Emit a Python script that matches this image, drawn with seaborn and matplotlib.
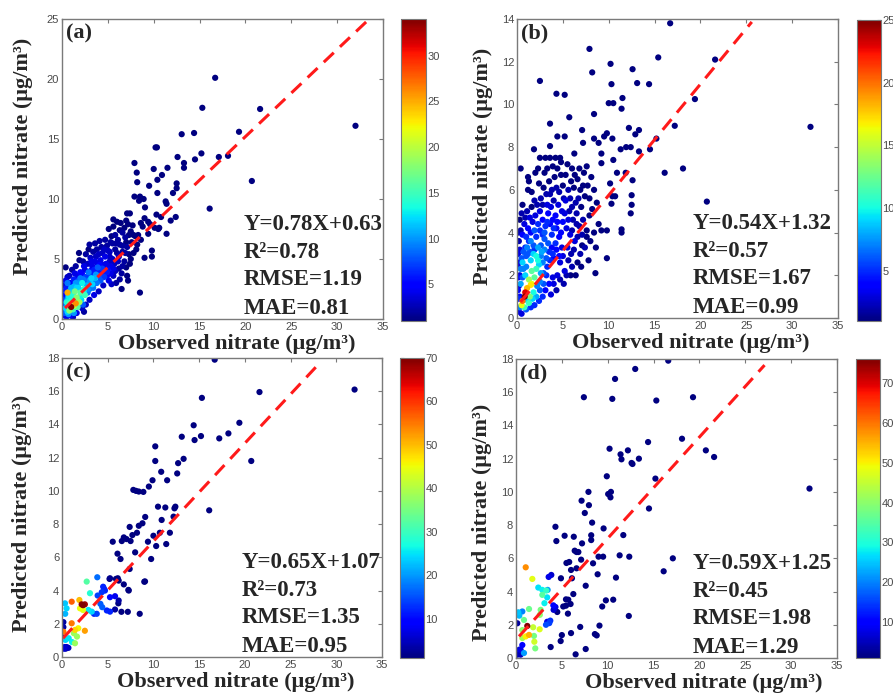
#!/usr/bin/env python

import pandas as pd
import matplotlib
matplotlib.use('Agg')
import matplotlib.pyplot as plt
import seaborn as sns
from matplotlib.colors import Normalize
from matplotlib.cm import ScalarMappable

# ---------------- data ----------------
# (a) sparse dark-blue points (density ~1)
obs_a_sparse = [16.7, 32.0, 15.3, 21.6, 19.3, 13.05, 14.4, 10.2, 10.35, 15.2,
                12.6, 17.1, 18.1, 14.5, 7.9, 20.7, 16.1, 10.0, 13.3, 13.3,
                11.5, 10.9, 10.4, 8.15, 8.2, 9.5, 12.5, 12.5, 10.4, 12.1,
                11.3, 11.4, 7.9, 8.9, 9.05, 10.3, 12.4, 11.85, 10.8, 11.4,
                10.5, 8.5, 8.4, 7.1, 7.4, 5.6, 9.4, 9.4, 9.8, 9.8,
                9.0, 8.5, 7.2, 6.5, 0.4, 1.85]
pred_a_sparse = [20.1, 16.1, 17.6, 17.5, 15.6, 15.4, 15.5, 14.3, 14.3, 13.8,
                 13.5, 13.5, 13.6, 13.3, 13.0, 11.5, 9.2, 12.5, 13.0, 12.6,
                 12.6, 12.0, 11.6, 12.2, 11.4, 11.1, 11.3, 10.9, 10.5, 10.5,
                 9.8, 9.6, 10.2, 10.0, 9.3, 8.7, 8.5, 8.2, 8.5, 7.1,
                 7.5, 10.2, 9.85, 8.8, 8.8, 8.3, 8.1, 7.1, 5.7, 5.2,
                 5.1, 2.2, 3.2, 2.5, 4.3, 5.5]

# (a) body + dense core
obs_a_core = [8.6, 9.0, 8.8, 9.6, 10.6, 10.1, 8.3, 7.7, 7.5, 7.2,
              6.8, 6.4, 6.6, 6.9, 7.6, 8.0, 5.8, 6.1, 5.4, 6.3,
              7.1, 5.5, 5.8, 6.6, 7.3, 7.5, 6.8, 6.2, 5.5, 7.0,
              6.2, 5.2, 4.9, 4.6, 4.3, 5.1, 4.0, 3.8, 3.4, 2.9,
              2.6, 3.1, 2.3, 1.9, 1.1, 1.5, 2.8, 3.6, 4.2, 4.8,
              5.3, 5.8, 6.5, 5.6, 4.9, 4.4, 3.9, 3.3, 4.6, 5.1,
              5.9, 4.2, 3.7, 6.3, 7.1, 5.4, 4.5, 3.4, 2.9, 2.5,
              3.2, 2.2, 1.7, 0.6, 0.9, 0.5, 1.3, 0.3, 0.4, 0.2,
              0.5, 0.9, 1.6, 2.2, 2.6, 3.0, 3.5, 4.0, 2.4, 1.2,
              0.1, 1.0, 1.3, 1.5, 0.8, 1.2, 0.6, 0.8, 1.1, 1.6,
              2.0, 2.4, 1.8, 2.2, 2.7, 3.0, 2.5, 1.9, 0.5, 0.4,
              0.7, 1.4, 1.0, 0.6, 2.8, 3.3, 3.6, 2.0, 1.5, 3.0,
              1.7, 2.1, 0.3, 0.9, 2.3, 1.3, 0.2, 2.6, 3.4, 4.0,
              4.5, 3.8, 4.3, 4.8, 5.2, 3.9, 3.1]
pred_a_core = [8.0, 8.4, 7.7, 7.9, 7.6, 7.6, 7.0, 7.8, 7.3, 7.9,
               7.6, 8.0, 7.2, 6.8, 6.4, 6.9, 7.0, 6.6, 6.9, 6.2,
               6.0, 6.3, 5.8, 5.6, 5.4, 5.0, 4.8, 5.2, 5.0, 4.3,
               4.2, 5.6, 6.1, 5.8, 6.0, 7.5, 5.4, 5.8, 5.6, 5.8,
               5.4, 5.1, 4.8, 4.9, 4.1, 4.4, 4.6, 4.8, 4.9, 4.6,
               4.4, 4.0, 3.8, 3.6, 3.9, 4.2, 4.3, 4.4, 3.5, 3.2,
               3.0, 3.2, 3.7, 3.3, 3.6, 2.9, 2.8, 2.6, 3.9, 4.1,
               3.4, 3.7, 3.6, 3.5, 3.0, 2.6, 3.3, 2.0, 1.2, 0.3,
               0.2, 0.3, 0.5, 0.9, 1.2, 1.6, 2.0, 2.3, 0.6, 0.15,
               0.8, 1.0, 1.1, 1.3, 0.7, 0.8, 2.2, 1.8, 1.6, 1.8,
               2.2, 2.5, 2.6, 3.0, 2.8, 3.2, 2.0, 1.4, 1.4, 0.9,
               0.4, 2.3, 2.6, 3.0, 2.2, 2.9, 3.4, 3.4, 3.0, 2.5,
               1.0, 1.6, 0.5, 1.3, 1.2, 0.5, 1.6, 3.5, 3.8, 3.6,
               4.5, 3.0, 3.9, 4.2, 4.8, 4.6, 4.0]
dens_a_core = [1, 1, 1, 1, 1, 1, 1, 1, 1, 1,
               1, 1, 2, 2, 1, 1, 2, 2, 1, 2,
               2, 2, 2, 2, 1, 1, 2, 3, 3, 1,
               2, 3, 2, 3, 2, 1, 3, 2, 2, 1,
               2, 3, 2, 1, 2, 2, 3, 4, 4, 4,
               4, 3, 2, 3, 6, 7, 8, 4, 7, 4,
               2, 8, 10, 2, 1, 3, 3, 9, 9, 4,
               12, 5, 4, 3, 5, 6, 6, 5, 8, 4,
               4, 5, 4, 3, 3, 3, 4, 3, 2, 3,
               4, 34, 20, 26, 18, 15, 25, 13, 14, 18,
               16, 14, 12, 13, 11, 10, 15, 19, 14, 12,
               10, 17, 11, 9, 9, 12, 11, 9, 10, 9,
               16, 12, 8, 17, 8, 10, 7, 7, 6, 8,
               4, 9, 5, 4, 3, 4, 5]

# (a) extra points filling the dark-blue mass
obs_a_fill = [3.0, 3.6, 4.1, 4.7, 5.3, 5.0, 4.4, 3.7, 3.2, 2.4,
              5.9, 6.0, 6.6, 7.0, 7.8, 7.3, 6.3, 5.6, 6.0, 7.0,
              5.7, 6.1, 6.6, 7.4, 7.8, 8.2, 8.6, 8.1, 6.9, 5.2,
              4.7, 4.1, 3.5, 3.0, 2.7, 2.3, 1.9, 1.6, 1.2, 1.0,
              4.0, 4.4, 4.9, 5.3, 5.0, 5.6, 3.6, 3.2, 2.8, 2.4,
              2.0, 1.7, 1.4, 1.1, 0.9, 0.6, 0.3, 0.2, 0.6, 0.7,
              0.4, 0.8, 1.0, 1.3, 1.7, 2.0, 1.4, 0.8, 0.4, 0.2]
pred_a_fill = [6.2, 6.3, 6.5, 6.6, 6.4, 5.7, 5.5, 5.2, 4.8, 4.4,
               6.3, 5.5, 6.1, 6.4, 7.0, 7.0, 7.4, 7.7, 8.1, 8.2,
               4.6, 4.8, 4.4, 4.6, 5.5, 6.2, 6.6, 5.8, 5.5, 5.2,
               5.2, 4.5, 4.1, 3.6, 3.2, 3.3, 3.0, 2.6, 2.0, 1.8,
               3.9, 3.7, 3.6, 3.8, 4.1, 4.2, 3.0, 2.7, 2.5, 2.2,
               1.9, 1.6, 1.4, 1.2, 0.9, 0.6, 0.8, 1.2, 1.6, 1.9,
               2.4, 2.3, 2.2, 2.7, 3.1, 3.9, 3.8, 3.6, 3.2, 2.8]
dens_a_fill = [2, 2, 2, 2, 2, 3, 3, 3, 4, 4,
               2, 2, 2, 1, 1, 1, 1, 1, 1, 1,
               3, 3, 2, 1, 1, 1, 1, 1, 2, 3,
               4, 5, 6, 7, 8, 9, 10, 12, 14, 13,
               6, 6, 5, 4, 5, 4, 8, 9, 10, 12,
               13, 14, 15, 16, 15, 12, 6, 5, 11, 12,
               6, 10, 12, 11, 8, 5, 4, 3, 4, 3]

# (b) sparse dark-blue points
obs_b_sparse = [16.7, 7.9, 15.4, 10.2, 8.2, 12.6, 2.5, 13.1, 14.4, 10.3,
                21.6, 4.3, 5.2, 11.5, 10.0, 10.5, 11.4, 5.7, 8.4, 19.4,
                3.6, 32.0, 17.2, 12.2, 13.3, 7.1, 12.9, 9.8, 4.4, 5.2,
                8.4, 9.5, 10.4, 15.2, 1.85, 8.9, 7.2, 11.3, 11.9, 12.4,
                14.5, 13.3, 9.2, 3.6, 2.5, 3.1, 4.7, 6.25, 10.5, 16.1,
                18.1, 0.4, 9.2, 7.6, 10.9, 11.85, 12.6, 10.15, 20.7, 12.5,
                12.5, 10.4, 10.7, 10.3, 12.4, 11.4, 11.4, 9.2, 9.8, 9.8,
                8.55, 5.85, 1.2, 1.2, 2.0, 3.6]
pred_b_sparse = [13.8, 12.6, 12.2, 11.9, 11.5, 11.65, 11.1, 11.0, 10.95, 10.95,
                 12.1, 10.5, 10.45, 10.3, 10.06, 10.06, 9.8, 9.4, 9.55, 10.25,
                 9.1, 8.95, 9.0, 8.9, 8.8, 8.8, 8.6, 8.65, 8.5, 8.5,
                 8.4, 8.5, 8.4, 8.4, 7.9, 8.2, 8.2, 7.9, 8.0, 8.0,
                 7.9, 7.8, 7.7, 7.5, 7.5, 7.5, 7.5, 7.7, 7.4, 6.8,
                 7.0, 7.0, 7.25, 7.1, 6.8, 6.8, 6.45, 6.3, 5.45, 5.75,
                 5.3, 5.7, 5.7, 5.35, 4.9, 4.15, 4.0, 4.1, 4.1, 2.8,
                 2.1, 2.0, 6.0, 6.6, 6.8, 8.05]

# (b) body + dense core
obs_b_core = [0.2, 0.5, 0.3, 0.2, 0.3, 0.2, 0.3, 0.2, 0.4, 0.3,
              0.6, 0.8, 1.0, 1.2, 0.9, 1.3, 1.5, 1.7, 1.1, 1.6,
              2.0, 2.2, 2.6, 2.9, 3.2, 3.5, 2.4, 3.0, 3.8, 4.1,
              4.4, 4.0, 4.6, 5.0, 5.3, 5.6, 5.8, 6.2, 6.6, 6.9,
              6.4, 7.0, 7.4, 7.7, 6.0, 5.5, 4.8, 3.9, 6.8, 7.3,
              2.3, 1.3,
              0.5, 0.7, 1.0, 1.4, 1.8, 2.1, 2.5, 2.8, 3.1, 3.4,
              3.7, 4.2, 4.5, 4.9, 5.3, 5.7, 6.1, 6.5, 6.8, 7.2,
              7.6, 7.9, 8.2, 8.0, 7.4, 6.9, 6.3, 5.8, 5.4, 5.0,
              4.6, 4.2, 3.8, 3.4, 3.0, 2.6, 5.6, 6.0, 5.2, 4.7,
              4.4, 3.9, 3.5, 3.1, 2.8, 2.4, 1.9, 1.5, 1.0, 4.0,
              6.6, 7.1, 4.9, 3.3, 2.9, 5.1, 4.3, 3.7, 6.4, 7.8,
              8.6, 8.9, 8.4, 7.0,
              0.84, 0.9, 0.6, 1.1, 0.5, 1.5, 1.6, 1.3, 1.9, 2.1,
              1.6, 2.4, 2.1, 0.9, 0.4, 0.3, 1.2, 1.8, 2.6, 2.3,
              1.5, 2.8, 1.0, 3.2, 3.0, 2.6, 3.5, 1.2, 0.6, 2.2,
              0.8, 1.4, 2.5, 3.8, 4.3, 3.6, 2.8, 1.9]
pred_b_core = [0.3, 0.2, 1.0, 1.5, 2.0, 2.6, 3.2, 3.6, 4.1, 4.6,
               3.9, 4.4, 3.8, 4.2, 3.3, 3.6, 4.0, 4.5, 5.0, 5.2,
               4.8, 5.3, 5.6, 6.1, 5.8, 6.4, 6.3, 6.8, 6.0, 6.6,
               7.0, 5.5, 5.9, 6.2, 6.7, 6.0, 5.6, 6.1, 6.5, 6.0,
               5.4, 5.2, 5.7, 6.2, 7.0, 7.2, 7.3, 7.1, 7.0, 6.8,
               7.0, 6.4,
               2.8, 2.3, 2.9, 3.1, 3.4, 3.8, 4.1, 4.6, 4.3, 4.9,
               5.2, 4.8, 5.3, 5.0, 5.5, 5.0, 4.6, 4.9, 4.3, 4.6,
               4.1, 4.8, 5.1, 3.6, 3.3, 3.0, 3.6, 3.9, 4.2, 4.5,
               3.8, 3.5, 3.9, 3.5, 3.2, 2.9, 2.7, 2.4, 2.2, 2.6,
               2.0, 1.9, 1.6, 1.3, 1.0, 0.8, 0.6, 0.5, 0.4, 2.8,
               3.8, 3.9, 3.3, 2.4, 2.1, 1.6, 1.3, 1.1, 2.0, 2.7,
               3.3, 4.4, 4.0, 2.4,
               1.0, 1.2, 0.8, 1.4, 0.6, 1.55, 1.6, 1.8, 1.9, 2.3,
               2.2, 2.5, 2.9, 2.0, 1.6, 0.5, 0.8, 1.2, 2.1, 3.3,
               2.7, 2.6, 2.4, 2.8, 3.7, 3.4, 3.1, 3.0, 1.9, 1.5,
               0.5, 1.0, 1.7, 3.3, 4.2, 4.4, 3.9, 3.2]
dens_b_core = [3, 3, 4, 3, 3, 3, 3, 2, 2, 1,
               4, 3, 5, 4, 5, 5, 4, 3, 2, 1,
               3, 2, 2, 1, 2, 1, 1, 1, 2, 1,
               1, 2, 2, 1, 1, 2, 2, 1, 1, 1,
               2, 1, 1, 1, 1, 1, 1, 1, 1, 1,
               1, 1,
               6, 7, 6, 6, 6, 5, 5, 4, 5, 4,
               3, 4, 3, 3, 3, 2, 2, 2, 2, 2,
               1, 1, 1, 1, 2, 2, 3, 3, 3, 4,
               4, 5, 5, 6, 7, 7, 2, 2, 3, 3,
               3, 3, 4, 4, 5, 5, 5, 5, 6, 4,
               2, 2, 3, 5, 6, 2, 2, 3, 1, 1,
               1, 1, 1, 1,
               25, 23, 20, 18, 16, 17, 16, 14, 12, 11,
               12, 9, 10, 9, 8, 7, 9, 10, 8, 8,
               9, 7, 7, 6, 6, 6, 5, 6, 6, 7,
               11, 13, 7, 4, 4, 4, 5, 5]

# (b) extra points filling the dark-blue mass
obs_b_fill = [0.5, 0.9, 1.4, 1.9, 2.5, 2.8, 3.3, 3.6, 4.3, 4.8,
              5.1, 5.9, 6.3, 6.0, 6.7, 7.2, 7.9, 8.4, 8.1, 8.7,
              3.0, 3.3, 3.9, 4.4, 4.0, 4.8, 5.2, 5.6, 6.0, 6.5,
              2.3, 1.9, 1.5, 1.1, 0.7, 0.4, 0.6, 1.8, 2.3, 2.7,
              3.6, 3.9, 4.3, 4.6, 5.0, 5.5, 5.9, 6.2, 7.1, 7.6,
              3.2, 2.9, 2.5, 2.1, 1.7, 1.3, 4.0, 4.7, 5.4, 6.6,
              0.2, 0.1, 0.15, 0.1, 0.1, 0.15, 0.6, 1.6, 3.3, 4.2]
pred_b_fill = [4.9, 4.7, 4.7, 5.5, 5.0, 5.3, 5.3, 5.8, 6.1, 6.7,
               5.6, 6.4, 6.7, 5.2, 5.6, 6.2, 5.6, 6.0, 6.6, 5.4,
               4.0, 4.5, 4.6, 4.5, 4.2, 4.0, 4.9, 4.6, 4.1, 4.4,
               4.4, 4.1, 3.6, 3.3, 3.1, 2.3, 2.6, 3.0, 2.7, 3.1,
               2.7, 3.0, 3.2, 2.9, 2.9, 3.3, 3.0, 3.2, 3.4, 3.8,
               2.0, 1.6, 1.3, 1.0, 0.9, 0.7, 1.6, 1.8, 2.0, 2.6,
               0.9, 1.3, 1.9, 2.4, 3.0, 4.0, 5.3, 5.9, 7.0, 7.5]
dens_b_fill = [2, 2, 3, 2, 3, 2, 3, 2, 2, 1,
               2, 1, 1, 2, 2, 1, 1, 1, 1, 1,
               6, 5, 4, 4, 5, 4, 3, 3, 2, 2,
               5, 6, 7, 7, 6, 7, 9, 9, 10, 8,
               5, 5, 4, 4, 3, 3, 2, 2, 1, 1,
               5, 6, 6, 8, 9, 11, 3, 2, 2, 1,
               5, 4, 4, 3, 3, 2, 1, 1, 1, 1]

# (c) sparse dark-blue points
obs_c_sparse = [16.7, 32.0, 21.6, 15.3, 14.4, 19.4, 14.5, 15.2, 13.1, 17.2,
                18.2, 10.2, 10.2, 10.85, 13.3, 12.7, 12.6, 20.7, 11.5, 9.9,
                9.5, 7.8, 8.1, 8.4, 8.9, 16.1, 10.5, 11.3, 12.3, 12.4,
                12.2, 10.9, 9.1, 8.8, 8.4, 7.4, 9.4, 10.3, 11.4, 11.8,
                10.7, 10.0, 8.2, 7.7, 7.5, 6.76, 7.05, 6.54, 5.55, 8.0,
                6.07, 6.4, 9.75, 7.4, 9.0, 5.2, 5.9, 6.2, 6.76, 7.3,
                6.5, 7.2, 8.5, 6.1, 7.26, 9.08, 6.16]
pred_c_sparse = [17.9, 16.1, 15.95, 15.6, 13.95, 14.1, 13.06, 13.3, 13.26, 13.16,
                 13.46, 12.68, 11.8, 11.15, 11.93, 11.67, 11.05, 11.8, 10.64, 10.64,
                 10.26, 10.06, 10.0, 9.96, 9.94, 8.83, 9.05, 9.0, 8.95, 9.05,
                 8.45, 8.25, 8.43, 8.05, 7.9, 7.83, 6.94, 6.68, 6.8, 7.48,
                 7.48, 7.3, 7.48, 7.34, 6.98, 7.2, 7.1, 6.98, 6.94, 6.3,
                 6.22, 5.9, 5.9, 5.3, 4.53, 4.7, 4.7, 4.6, 4.37, 4.0,
                 2.72, 2.72, 2.6, 4.74, 4.04, 4.55, 3.23]

# (c) coloured cluster
obs_c_core = [5.8, 6.2, 5.8, 5.25, 5.25, 4.9, 5.25, 4.2, 4.4, 3.8,
              3.5, 4.5, 4.35, 4.7, 3.9, 4.6,
              2.7, 3.86, 3.06, 1.9, 1.06, 0.33, 0.5, 2.15, 2.3, 2.5,
              1.97, 2.3, 2.88, 3.25, 0.35, 1.06, 1.42, 1.78, 2.5, 0.15,
              1.3, 1.64, 0.73, 0.38, 1.1, 1.42, 0.15, 0.15, 0.0, 0.1,
              0.3, 0.5, 0.7, 0.2, 0.4]
pred_c_core = [3.66, 3.4, 2.86, 4.74, 3.6, 2.8, 2.73, 3.2, 3.0, 2.6,
               2.6, 4.23, 3.9, 4.0, 3.7, 4.1,
               4.54, 4.8, 3.84, 3.43, 3.33, 3.23, 2.93, 3.17, 3.12, 3.17,
               2.93, 2.83, 2.83, 2.73, 2.6, 2.03, 1.63, 1.73, 1.58, 1.52,
               1.43, 1.23, 1.13, 1.03, 0.9, 0.83, 2.1, 1.8, 1.2, 0.55,
               0.6, 0.6, 0.55, 0.5, 0.5]
dens_c_core = [8, 3, 3, 2, 10, 12, 12, 16, 16, 14,
               12, 12, 13, 12, 14, 10,
               32, 17, 28, 50, 57, 23, 24, 69, 70, 68,
               45, 44, 25, 24, 22, 55, 48, 46, 52, 55,
               38, 38, 25, 24, 26, 38, 3, 3, 4, 6,
               6, 5, 5, 6, 4]

# (d) sparse dark-blue points
obs_d_sparse = [16.6, 13.0, 10.8, 7.4, 10.5, 19.3, 15.3, 18.1, 14.4, 20.7,
                21.6, 10.2, 12.2, 11.4, 11.5, 13.4, 12.6, 12.7, 9.9, 15.2,
                32.0, 7.9, 10.35, 10.05, 10.3, 7.15, 7.95, 7.5, 14.5, 8.3,
                4.3, 9.55, 8.2, 8.2, 11.7, 4.4, 5.3, 6.3, 7.2, 6.4,
                6.6, 6.8, 11.3, 12.35, 9.0, 9.5, 7.1, 17.1, 8.4, 16.1,
                6.6, 5.8, 5.5, 6.0, 4.9, 6.1, 8.9, 10.9, 7.6, 5.7,
                5.95, 5.45, 6.25, 5.15, 5.45, 5.66, 4.5, 9.8, 10.6, 9.4,
                12.3, 7.0, 9.1, 8.6, 8.8, 6.0, 5.0, 4.87, 3.78, 7.6,
                6.5]
pred_d_sparse = [17.9, 17.4, 16.8, 15.7, 15.6, 15.7, 15.5, 13.2, 13.0, 12.5,
                 12.1, 12.6, 12.5, 12.26, 11.96, 12.0, 11.74, 11.68, 10.94, 10.8,
                 10.2, 10.0, 10.0, 9.87, 9.67, 9.47, 9.2, 8.73, 9.0, 8.15,
                 7.9, 7.8, 7.39, 7.1, 7.4, 7.04, 7.36, 7.3, 6.9, 6.46,
                 6.38, 6.38, 6.18, 6.1, 6.1, 6.1, 5.92, 6.0, 5.7, 5.22,
                 5.4, 5.78, 5.72, 5.3, 4.8, 4.8, 5.04, 4.84, 4.35, 3.51,
                 3.25, 3.53, 3.85, 3.1, 3.15, 2.67, 2.77, 3.47, 3.51, 3.1,
                 2.53, 1.87, 1.95, 1.44, 1.36, 1.5, 1.38, 1.02, 0.66, 0.54,
                 0.22]

# (d) coloured cluster
obs_d_core = [3.56, 3.85, 3.45, 4.3, 4.07, 3.74, 3.27, 3.63, 3.4, 4.1,
              1.06, 1.78, 2.43, 2.87, 3.3, 2.87, 3.4, 3.1, 2.69, 1.42,
              0.69, 0.25, 0.36, 2.6, 0.14, 0.87, 1.23, 1.87, 2.58, 0.69,
              1.42, 1.06, 0.69, 1.96, 2.0, 2.1, 0.69, 0.36, 0.5, 0.14,
              0.5, 0.87]
pred_d_core = [4.88, 5.0, 4.1, 3.07, 3.17, 2.25, 2.0, 2.1, 2.18, 2.9,
               5.46, 4.76, 4.24, 4.1, 4.06, 3.8, 3.65, 3.3, 2.9, 2.95,
               2.8, 2.75, 2.55, 2.6, 2.09, 2.29, 1.93, 1.85, 1.73, 1.68,
               1.39, 1.3, 1.2, 1.33, 0.98, 0.58, 0.78, 0.5, 0.5, 0.2,
               0.2, 0.3]
dens_d_core = [8, 6, 22, 8, 10, 14, 16, 15, 8, 6,
               58, 48, 27, 28, 32, 35, 27, 28, 38, 37,
               20, 25, 24, 40, 3, 37, 76, 45, 47, 40,
               55, 50, 42, 38, 46, 38, 10, 6, 8, 4,
               5, 22]

# statistics printed on each panel
eq_text = ['Y=0.78X+0.63', 'Y=0.54X+1.32', 'Y=0.65X+1.07', 'Y=0.59X+1.25']
r2_text = ['0.78', '0.57', '0.73', '0.45']
rmse_text = ['1.19', '1.67', '1.35', '1.98']
mae_text = ['0.81', '0.99', '0.95', '1.29']
panel_tags = ['(a)', '(b)', '(c)', '(d)']

# dashed fit line as drawn: slope, intercept, x start, x end
line_slope = [0.726, 0.52, 0.59, 0.61]
line_icpt = [0.68, 0.55, 1.07, 1.1]
line_x0 = [0.33, 0.4, 0.1, 0.33]
line_x1 = [33.2, 25.6, 28.2, 27.1]

y_max = [25, 14, 18, 18]
y_step = [5, 2, 2, 2]
dens_range = [(1, 34), (1, 25), (1, 70), (1, 76)]
cbar_ticks = [[5, 10, 15, 20, 25, 30], [5, 10, 15, 20, 25],
              [10, 20, 30, 40, 50, 60, 70], [10, 20, 30, 40, 50, 60, 70]]


def make_frame(xs, ys, xc, yc, dc):
    df = pd.DataFrame({
        'obs': list(xs) + list(xc),
        'pred': list(ys) + list(yc),
        'dens': [1] * len(xs) + list(dc),
    })
    return df.sort_values('dens', kind='stable')


frames = [
    make_frame(obs_a_sparse, pred_a_sparse, obs_a_core + obs_a_fill,
               pred_a_core + pred_a_fill, dens_a_core + dens_a_fill),
    make_frame(obs_b_sparse, pred_b_sparse, obs_b_core + obs_b_fill,
               pred_b_core + pred_b_fill, dens_b_core + dens_b_fill),
    make_frame(obs_c_sparse, pred_c_sparse, obs_c_core, pred_c_core, dens_c_core),
    make_frame(obs_d_sparse, pred_d_sparse, obs_d_core, pred_d_core, dens_d_core),
]

# ---------------- layout (figure fractions) ----------------
W, H = 893, 696
ax_px = [(62, 19, 321, 300), (517, 19, 321, 299), (62, 358, 320, 299), (516, 359, 321, 299)]
cb_px = [(401, 19, 25, 302), (857, 20, 24, 301), (400, 358, 24, 300), (856, 359, 24, 299)]
xlab_pos = [(0.545, -0.05), (0.54, -0.05), (0.544, -0.05), (0.586, -0.05)]
ylab_pos = [(-0.09, 0.543), (-0.075, 0.507), (-0.094, 0.48), (-0.075, 0.455)]
txt_x = [0.565, 0.548, 0.56, 0.551]
txt_y = [0.297, 0.204, 0.114, 0.017]


def frac(r):
    left, top, w, h = r
    return [left / W, (H - top - h) / H, w / W, h / H]


sns.set_style('white')
plt.rcParams['font.family'] = ['Liberation Sans', 'DejaVu Sans']

jet = matplotlib.colormaps['jet']
serif = ['Liberation Serif', 'DejaVu Serif']
tick_col = '#4a4a4a'
box_col = '#7a7a7a'

fig = plt.figure(figsize=(W / 100, H / 100), dpi=100)

for i, df in enumerate(frames):
    ax = fig.add_axes(frac(ax_px[i]))
    vmin, vmax = dens_range[i]
    sns.scatterplot(data=df, x='obs', y='pred', hue='dens', palette=jet,
                    hue_norm=(vmin, vmax), s=20, linewidth=0, legend=False, ax=ax)

    # dashed fit line
    xs = [line_x0[i], line_x1[i]]
    ys = [line_slope[i] * v + line_icpt[i] for v in xs]
    sns.lineplot(x=xs, y=ys, color='#ff1a1a', lw=2.2, ax=ax)
    ax.lines[-1].set_dashes((4.5, 2.8))

    ax.set_xlim(0, 35)
    ax.set_ylim(0, y_max[i])
    ax.set_xticks(range(0, 36, 5))
    ax.set_yticks(range(0, y_max[i] + 1, y_step[i]))
    ax.tick_params(direction='in', length=3, width=0.8, top=True, right=True,
                   labelsize=8, labelcolor=tick_col, color=box_col, pad=2)
    for sp in ax.spines.values():
        sp.set_color(box_col)
        sp.set_linewidth(1.0)

    ax.set_xlabel('Observed nitrate (μg/m³)', family=serif, fontweight='bold', fontsize=16)
    ax.set_ylabel('Predicted nitrate (μg/m³)', family=serif, fontweight='bold', fontsize=16)
    ax.xaxis.set_label_coords(*xlab_pos[i])
    ax.yaxis.set_label_coords(*ylab_pos[i])

    ax.text(0.012, 0.985, panel_tags[i], transform=ax.transAxes, ha='left', va='top',
            family=serif, fontweight='bold', fontsize=16)
    lines = [eq_text[i], 'R²=' + r2_text[i], 'RMSE=' + rmse_text[i], 'MAE=' + mae_text[i]]
    for txt, yy in zip(lines, txt_y):
        ax.text(txt_x[i], yy, txt, transform=ax.transAxes, ha='left', va='baseline',
                family=serif, fontweight='bold', fontsize=16.5)

    # colour bar
    cax = fig.add_axes(frac(cb_px[i]))
    sm = ScalarMappable(norm=Normalize(vmin, vmax), cmap=jet)
    cb = fig.colorbar(sm, cax=cax)
    cb.set_ticks(cbar_ticks[i])
    cb.outline.set_edgecolor(box_col)
    cax.tick_params(direction='in', length=3, width=0.8, left=True, right=True,
                    labelsize=8, labelcolor=tick_col, color='#333333', pad=1)

fig.savefig('out.png', dpi=100)
